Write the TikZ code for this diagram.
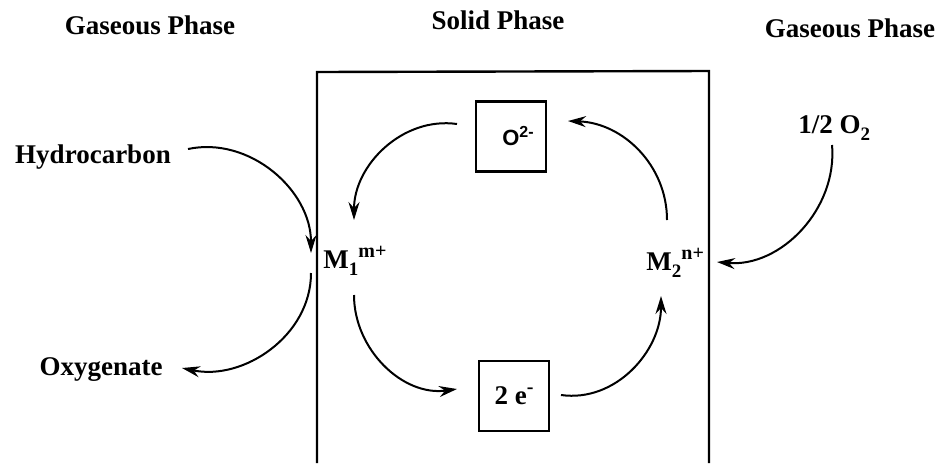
\documentclass[tikz,border=0pt]{standalone}
\usepackage{fontspec}
\setmainfont{Liberation Serif}
\setsansfont{Liberation Sans}
\usetikzlibrary{arrows.meta}
\newcommand{\upidx}[1]{\raisebox{5.5pt}{\fontsize{10}{12}\selectfont #1}}
\newcommand{\lowidx}[1]{\raisebox{-3.5pt}{\fontsize{9.5}{11}\selectfont #1}}
\tikzset{
  phase/.style  = {font=\bfseries\fontsize{13.5}{16}\selectfont, anchor=base, inner sep=0pt},
  spec/.style   = {font=\bfseries\fontsize{13.5}{16}\selectfont, inner sep=0pt},
  ionbox/.style = {draw, line width=1.3pt, minimum width=35pt, minimum height=35pt, inner sep=0pt},
  flow/.style   = {-{Stealth[length=9pt,width=5.5pt,inset=3pt]}, line width=1pt},
  wall/.style   = {line width=1.2pt},
}

\begin{document}
\begin{tikzpicture}[x=0.5pt,y=0.5pt]
  \useasboundingbox (0,0) rectangle (940,463);
  % phase headings
  \node[phase] (gasL)  at (150,429) {Gaseous Phase};
  \node[phase] (solid) at (498,434) {Solid Phase};
  \node[phase] (gasR)  at (850,426) {Gaseous Phase};
  % solid phase walls
  \draw[wall] (317,0) -- (317,391) -- (709,392) -- (709,0);
  % species
  \node[spec, anchor=base] (hc)  at (93,300) {Hydrocarbon};
  \node[spec, anchor=base] (oxy) at (101,88) {Oxygenate};
  \node[spec, anchor=base west] (m1) at (323,195) {M\lowidx{1}\upidx{m+}};
  \node[spec, anchor=base west] (m2) at (646,193) {M\lowidx{2}\upidx{n+}};
  \node[spec, anchor=base west] (o2) at (798,330) {1/2 O\lowidx{2}};
  \node[ionbox, font=\sffamily\bfseries\fontsize{11}{13}\selectfont] (ox) at (511,326.5)
    {\hspace{7pt}O\raisebox{4pt}{\fontsize{8}{10}\selectfont 2-}};
  \node[ionbox, font=\bfseries\fontsize{13.5}{16}\selectfont] (el) at (514,67) {2 e\upidx{-}};
  % arrow ends
  \coordinate (hc-out) at (188,314);
  \coordinate (m1-in)  at (311,210);
  \coordinate (m1-out) at (311,190);
  \coordinate (oxy-in) at (182,95);
  \coordinate (ox-out) at (457,339);
  \coordinate (m1-top) at (354,243);
  \coordinate (m2-top) at (667,243);
  \coordinate (ox-in)  at (568,342);
  \coordinate (m1-bot) at (354,168);
  \coordinate (el-in)  at (457,74);
  \coordinate (el-out) at (561,68);
  \coordinate (m2-bot) at (661,167);
  \coordinate (o2-out) at (832,318);
  \coordinate (m2-in)  at (717,201);
  % gas side
  \draw[flow] (hc-out) to[out=12,in=90] (m1-in);
  \draw[flow] (m1-out) to[out=-90,in=-12] (oxy-in);
  \draw[flow] (o2-out) to[out=-85,in=-5] (m2-in);
  % solid side cycle
  \draw[flow] (ox-out) to[out=172,in=90] (m1-top);
  \draw[flow] (m1-bot) to[out=-90,in=188] (el-in);
  \draw[flow] (el-out) to[out=-8,in=-90] (m2-bot);
  \draw[flow] (m2-top) to[out=90,in=-2] (ox-in);
\end{tikzpicture}
\end{document}
